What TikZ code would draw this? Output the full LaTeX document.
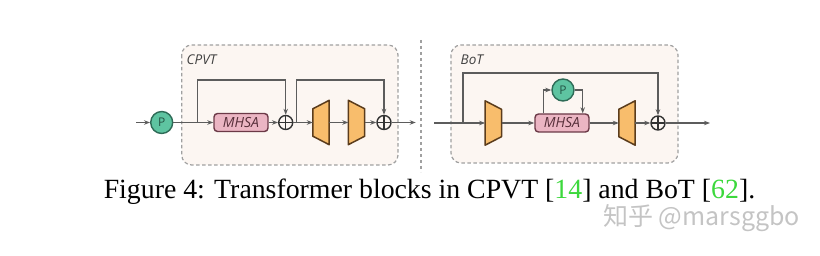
\documentclass[tikz,border=0pt]{standalone}
\usepackage{fontspec}
\setmainfont{Liberation Serif}
\newfontfamily\lblfont{Open Sans}
\newfontfamily\cjkfont{Noto Sans CJK SC}
\usetikzlibrary{arrows.meta,calc}
\definecolor{linec}{HTML}{5C5C5C}
\definecolor{pfill}{HTML}{5EC4A1}
\definecolor{pdraw}{HTML}{2E6B57}
\definecolor{mfill}{HTML}{EBB5C3}
\definecolor{mdraw}{HTML}{6B3947}
\definecolor{tfill}{HTML}{F8BD6C}
\definecolor{tdraw}{HTML}{5B3C1C}
\definecolor{bfill}{HTML}{FCF6F2}
\definecolor{bdraw}{HTML}{A0A0A0}
\definecolor{refgreen}{HTML}{3CD83C}
\definecolor{wmark}{HTML}{C4C4C4}
\tikzset{
  conn/.style={draw=linec, line width=1.4pt},
  arr/.style={conn, -{Stealth[length=6pt,width=4.5pt]}},
  pnode/.style={circle, draw=pdraw, fill=pfill, line width=1.4pt, minimum size=22pt, inner sep=0pt, font=\lblfont\fontsize{12}{12}\selectfont, text=pdraw!80!black},
  mhsanode/.style={rounded corners=3.5pt, draw=mdraw, fill=mfill, line width=1.4pt, minimum width=54pt, minimum height=18pt, inner sep=0pt, font=\lblfont\itshape\fontsize{14}{14}\selectfont, text=mdraw!80!black},
  plusnode/.style={circle, draw=black!80, line width=1.4pt, minimum size=14pt, inner sep=0pt, path picture={\draw[black!80, line width=1.4pt] (path picture bounding box.north) -- (path picture bounding box.south) (path picture bounding box.west) -- (path picture bounding box.east);}},
  trapbox/.style={minimum width=16pt, minimum height=44pt, inner sep=0pt},
  trapdraw/.style={fill=tfill, draw=tdraw, line width=1.5pt, line join=round},
  blockbox/.style={draw=bdraw, fill=bfill, dashed, dash pattern=on 3.5pt off 2.5pt, line width=1.2pt, rounded corners=10pt},
  blocklabel/.style={anchor=west, inner sep=0pt, font=\lblfont\itshape\fontsize{13.5}{13.5}\selectfont, text=black!75},
}
\begin{document}
\begin{tikzpicture}[x=1pt,y=-1pt]
\useasboundingbox (0,0) rectangle (820,256);
% background blocks
\draw[blockbox] (181.7,45) rectangle (398,165);
\draw[blockbox] (451,45) rectangle (678,163);
\draw[bdraw, line width=1.2pt, dash pattern=on 3.5pt off 2.5pt] (421,40) -- (421,172);
\node[blocklabel] (lcpvt) at (186.5,60) {CPVT};
\node[blocklabel] (lbot) at (460.5,60) {BoT};

% ---------------- CPVT ----------------
\coordinate (in1) at (136,122.5);
\node[pnode] (p1) at (161.7,122.5) {P};
\coordinate (s1) at (197.7,122.5);
\node[mhsanode] (m1) at (241,122.5) {MHSA};
\node[plusnode] (a1) at (285.7,122.5) {};
\coordinate (s2) at (296.7,122.5);
\node[trapbox] (t1) at (321,122.5) {};
\node[trapbox] (t2) at (356.5,122.5) {};
\node[plusnode] (a2) at (384,122.5) {};
\coordinate (out1) at (415.7,122.5);
\draw[trapdraw] ($(t1.north west)+(0,8.5)$) -- (t1.north east) -- (t1.south east) -- ($(t1.south west)+(0,-8.5)$) -- cycle;
\draw[trapdraw] (t2.north west) -- ($(t2.north east)+(0,8.5)$) -- ($(t2.south east)+(0,-8.5)$) -- (t2.south west) -- cycle;

\draw[arr] (in1) -- (p1);
\draw[arr] (p1) -- (m1);
\draw[arr] (m1) -- (a1);
\draw[arr] (a1) -- (t1);
\draw[arr] (t1) -- (t2);
\draw[arr] (t2) -- (a2);
\draw[arr] (a2) -- (out1);
\draw[arr] (s1) -- (s1 |- 0,80) -| (a1.north);
\draw[arr] (s2) -- (s2 |- 0,80) -| (a2.north);

% ---------------- BoT ----------------
\coordinate (in2) at (434.3,123);
\coordinate (s3) at (463,123);
\node[trapbox] (t3) at (493.3,123) {};
\node[mhsanode] (m2) at (562,123) {MHSA};
\node[pnode] (p2) at (563,90) {P};
\node[trapbox] (t4) at (627,123) {};
\node[plusnode] (a3) at (658,123) {};
\coordinate (out2) at (710,123);
\draw[trapdraw] (t3.north west) -- ($(t3.north east)+(0,8.5)$) -- ($(t3.south east)+(0,-8.5)$) -- (t3.south west) -- cycle;
\draw[trapdraw] ($(t4.north west)+(0,8.5)$) -- (t4.north east) -- (t4.south east) -- ($(t4.south west)+(0,-8.5)$) -- cycle;

\draw[conn] (in2) -- (s3);
\draw[arr] (s3) -- (t3);
\draw[arr] (t3) -- (m2);
\draw[arr] (m2) -- (t4);
\draw[arr] (t4) -- (a3);
\draw[arr] (a3) -- (out2);
\draw[arr] (s3) -- (s3 |- 0,73) -| (a3.north);
\coordinate (m2l) at ($(m2.north west)+(9,0)$);
\coordinate (m2r) at ($(m2.north east)+(-7,0)$);
\draw[arr] (m2l) |- (p2.west);
\draw[arr] (p2.east) -| (m2r);

% ---------------- caption ----------------
\node[anchor=base, inner sep=0pt, font=\fontsize{27.8}{27.8}\selectfont] (cap) at (429.5,198.5)
  {Figure 4: Transformer blocks in CPVT [{\color{refgreen}14}] and BoT [{\color{refgreen}62}].};
\node[anchor=west, inner sep=0pt, text=wmark, font=\cjkfont\fontsize{25}{25}\selectfont] (wm) at (603,218) {知乎 @marsggbo};
\end{tikzpicture}
\end{document}
